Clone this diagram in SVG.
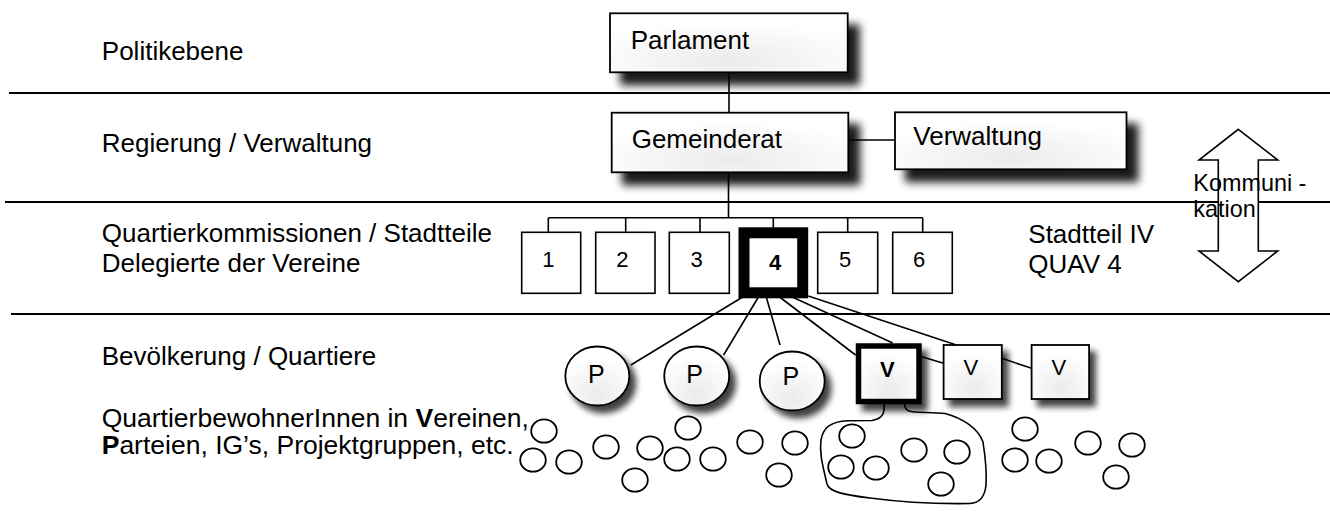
<svg xmlns="http://www.w3.org/2000/svg" width="1330" height="525" viewBox="0 0 1330 525">
<defs>
  <filter id="shBig" x="-10%" y="-20%" width="130%" height="170%">
    <feGaussianBlur in="SourceAlpha" stdDeviation="4.5"/>
    <feOffset dx="11" dy="12" result="o"/>
    <feComponentTransfer><feFuncA type="linear" slope="0.9"/></feComponentTransfer>
    <feMerge><feMergeNode/><feMergeNode in="SourceGraphic"/></feMerge>
  </filter>
  <filter id="shSmall" x="-20%" y="-20%" width="160%" height="160%">
    <feGaussianBlur in="SourceAlpha" stdDeviation="3"/>
    <feOffset dx="6" dy="7" result="o"/>
    <feComponentTransfer><feFuncA type="linear" slope="0.75"/></feComponentTransfer>
    <feMerge><feMergeNode/><feMergeNode in="SourceGraphic"/></feMerge>
  </filter>
  <radialGradient id="gf" cx="50%" cy="80%" r="65%">
    <stop offset="0" stop-color="#ebebeb"/>
    <stop offset="1" stop-color="#ffffff"/>
  </radialGradient>
</defs>
<style>
  text{font-family:"Liberation Sans",Arial,Helvetica,sans-serif;fill:#000}
  .lbl{font-size:26px}
  .lbl2{font-size:26.5px}
  .kom{font-size:23.4px}
  .num{font-size:22px;text-anchor:middle}
  .pt{font-size:25px;text-anchor:middle}
  .vt{font-size:22px;text-anchor:middle}
  .b{font-weight:bold}
  .level{stroke:#000;stroke-width:2;fill:none}
  .ln{stroke:#000;stroke-width:1.6;fill:none}
  .big{fill:url(#gf);stroke:#000;stroke-width:1.8;filter:url(#shBig)}
  .qk{fill:#fff;stroke:#000;stroke-width:1.6}
  .sm{fill:url(#gf);stroke:#000;stroke-width:1.8;filter:url(#shSmall)}
  .dot{fill:none;stroke:#000;stroke-width:1.8}
</style>

<g id="levels">
  <line class="level" x1="9" y1="93" x2="1330" y2="93"/>
  <line class="level" x1="5" y1="202" x2="1330" y2="202"/>
  <line class="level" x1="11" y1="314" x2="1330" y2="314"/>
</g>

<g id="labels">
  <text class="lbl" x="101.8" y="60">Politikebene</text>
  <text class="lbl" x="101.8" y="151.7">Regierung / Verwaltung</text>
  <text class="lbl" x="101.8" y="242.3">Quartierkommissionen / Stadtteile</text>
  <text class="lbl" x="101.8" y="271.5">Delegierte der Vereine</text>
  <text class="lbl" x="101.7" y="365">Bevölkerung / Quartiere</text>
  <text class="lbl2" x="101.7" y="426.7">QuartierbewohnerInnen in <tspan class="b">V</tspan>ereinen,</text>
  <text class="lbl2" x="101.7" y="454"><tspan class="b">P</tspan>arteien, IG’s, Projektgruppen, etc.</text>
  <text class="lbl" x="1028.3" y="243.3">Stadtteil IV</text>
  <text class="lbl" x="1028.3" y="273.3">QUAV 4</text>
</g>

<g id="connectors">
  <path class="ln" d="M729 72.3V112.7"/>
  <path class="ln" d="M848.3 140H895"/>
  <path class="ln" d="M728.5 172.3V217.7M548.3 217.7H922.7M548.3 217.7V232.3M625.7 217.7V232.3M700 217.7V232.3M773.3 217.7V232.3M847.7 217.7V232.3M922.7 217.7V232.3"/>
  <path class="ln" d="M744.3 296L630.9 365"/>
  <path class="ln" d="M759 296L723.6 355"/>
  <path class="ln" d="M766 296L780 345"/>
  <path class="ln" d="M778.3 296L855.6 355"/>
  <path class="ln" d="M790 296L892.7 343"/>
  <path class="ln" d="M808.3 296L956.4 345"/>
  <path class="ln" d="M921.8 356.7L943.6 363.3"/>
  <path class="ln" d="M1001.8 358.3L1031.6 368.3"/>
</g>

<g id="cluster">
  <path class="ln" d="M884.2 403.3C884.5 412 884 418.5 872 420.5L848 420.7C830 421.5 823 428 821 440C819 455 824 470 827 484C829 492 845 495 870 498C900 502 940 504 970 503.5C981 503 985 495 986 485C987 470 985 455 983 442C978 428 962 418 945 413.5C930 412 915 413 909 411C905 409.5 904.5 407 904.5 403.3"/>
</g>

<g id="node-parlament">
  <rect class="big" x="610" y="13.3" width="237.7" height="59"/>
  <text class="lbl" x="630.7" y="49">Parlament</text>
</g>
<g id="node-gemeinderat">
  <rect class="big" x="611.7" y="112.7" width="236.6" height="59.6"/>
  <text class="lbl" x="631.7" y="147.7">Gemeinderat</text>
</g>
<g id="node-verwaltung">
  <rect class="big" x="895" y="112.3" width="231.5" height="57"/>
  <text class="lbl" x="913.3" y="145">Verwaltung</text>
</g>

<g id="node-1"><rect class="qk" x="521.7" y="232.3" width="59" height="61"/><text class="num" x="548.3" y="267.3">1</text></g>
<g id="node-2"><rect class="qk" x="595.7" y="232.3" width="59.3" height="61"/><text class="num" x="622.3" y="267.3">2</text></g>
<g id="node-3"><rect class="qk" x="669.3" y="232.3" width="60" height="61"/><text class="num" x="696.7" y="267.3">3</text></g>
<g id="node-4"><rect x="744" y="232.8" width="58.7" height="60" fill="#fff" stroke="#000" stroke-width="11"/><text class="num b" x="775" y="270">4</text></g>
<g id="node-5"><rect class="qk" x="817.7" y="232.3" width="60" height="61"/><text class="num" x="845" y="267.3">5</text></g>
<g id="node-6"><rect class="qk" x="892.7" y="232.3" width="59.6" height="61"/><text class="num" x="919" y="267.3">6</text></g>

<g id="node-p1"><ellipse class="sm" cx="597.3" cy="376" rx="32" ry="29.5"/><text class="pt" x="596.4" y="382.7">P</text></g>
<g id="node-p2"><ellipse class="sm" cx="696.7" cy="376" rx="32.5" ry="29.5"/><text class="pt" x="694.5" y="383.3">P</text></g>
<g id="node-p3"><ellipse class="sm" cx="792.2" cy="381" rx="32.5" ry="29.5"/><text class="pt" x="790.9" y="385">P</text></g>

<g id="node-v1"><rect x="858.5" y="346" width="60.5" height="55.5" fill="url(#gf)" stroke="#000" stroke-width="5.5" filter="url(#shSmall)"/><text class="vt b" x="887.3" y="376.7">V</text></g>
<g id="node-v2"><rect class="sm" x="943.6" y="345" width="58.2" height="54"/><text class="vt" x="970.9" y="375">V</text></g>
<g id="node-v3"><rect class="sm" x="1031.6" y="345" width="57.5" height="54"/><text class="vt" x="1058.9" y="375">V</text></g>

<g id="residents">
  <ellipse class="dot" cx="544" cy="431" rx="12.8" ry="11.7"/>
  <ellipse class="dot" cx="533" cy="460" rx="12.8" ry="11.7"/>
  <ellipse class="dot" cx="569" cy="462" rx="12.8" ry="11.7"/>
  <ellipse class="dot" cx="606" cy="447" rx="12.8" ry="11.7"/>
  <ellipse class="dot" cx="635" cy="480" rx="12.8" ry="11.7"/>
  <ellipse class="dot" cx="650" cy="448" rx="12.8" ry="11.7"/>
  <ellipse class="dot" cx="677" cy="459" rx="12.8" ry="11.7"/>
  <ellipse class="dot" cx="688" cy="428" rx="12.8" ry="11.7"/>
  <ellipse class="dot" cx="713" cy="459" rx="12.8" ry="11.7"/>
  <ellipse class="dot" cx="750" cy="442" rx="12.8" ry="11.7"/>
  <ellipse class="dot" cx="795" cy="443" rx="12.8" ry="11.7"/>
  <ellipse class="dot" cx="779" cy="475" rx="12.8" ry="11.7"/>
  <ellipse class="dot" cx="852" cy="436" rx="12.8" ry="11.7"/>
  <ellipse class="dot" cx="841" cy="467" rx="12.8" ry="11.7"/>
  <ellipse class="dot" cx="876" cy="468" rx="12.8" ry="11.7"/>
  <ellipse class="dot" cx="914" cy="450" rx="12.8" ry="11.7"/>
  <ellipse class="dot" cx="957" cy="452" rx="12.8" ry="11.7"/>
  <ellipse class="dot" cx="941" cy="484" rx="12.8" ry="11.7"/>
  <ellipse class="dot" cx="1025" cy="429" rx="12.8" ry="11.7"/>
  <ellipse class="dot" cx="1015" cy="460" rx="12.8" ry="11.7"/>
  <ellipse class="dot" cx="1049" cy="461" rx="12.8" ry="11.7"/>
  <ellipse class="dot" cx="1088" cy="443" rx="12.8" ry="11.7"/>
  <ellipse class="dot" cx="1132" cy="445" rx="12.8" ry="11.7"/>
  <ellipse class="dot" cx="1116" cy="477" rx="12.8" ry="11.7"/>
</g>

<g id="node-kommunikation">
  <polygon points="1238.3,129.3 1277.7,160 1258.3,160 1258.3,251 1277.7,251 1238.3,281.7 1199,251 1218.3,251 1218.3,160 1199,160" fill="#fff" stroke="#000" stroke-width="1.6"/>
  <text class="kom" x="1193.3" y="190.7">Kommuni -</text>
  <text class="kom" x="1193.3" y="217.3">kation</text>
</g>
</svg>
